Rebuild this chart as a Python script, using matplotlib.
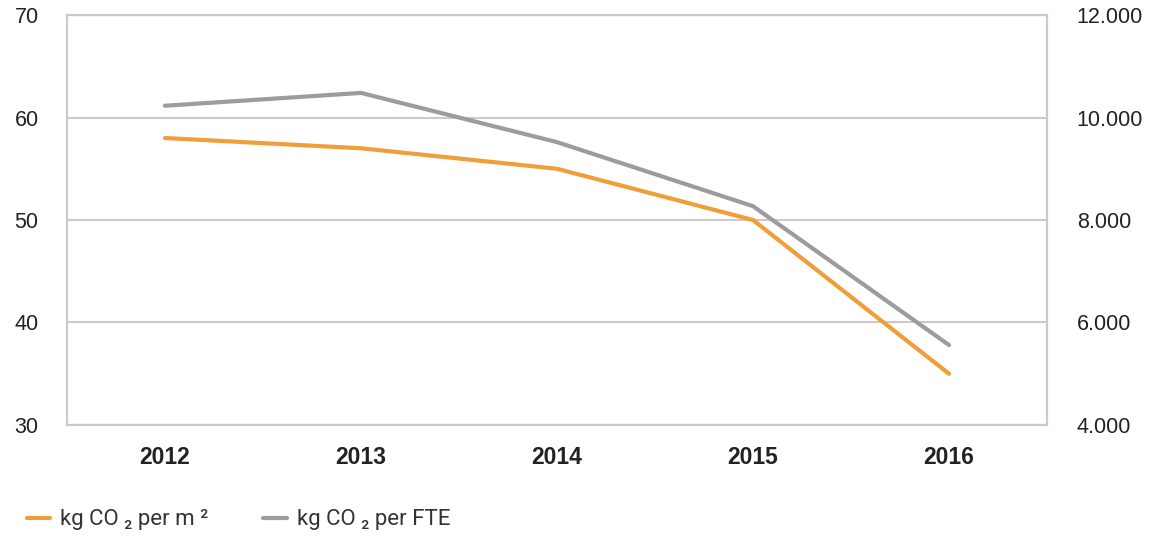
import matplotlib
matplotlib.use("Agg")
import matplotlib.pyplot as plt
from matplotlib.ticker import FuncFormatter

years = ["2012", "2013", "2014", "2015", "2016"]
co2_per_m2 = [58, 57, 55, 50, 35]
co2_per_fte = [10230, 10480, 9520, 8270, 5560]

orange = "#f09e3a"
grey = "#9c9c9e"
frame = "#cacacc"

plt.rcParams["font.family"] = ["Liberation Sans", "DejaVu Sans"]

fig = plt.figure(figsize=(11.55, 5.37), dpi=100)
ax = fig.add_axes([0.058, 0.2086, 0.8485, 0.7634])
ax2 = ax.twinx()

x = range(len(years))
l1, = ax.plot(x, co2_per_m2, color=orange, lw=3, solid_capstyle="round")
l2, = ax2.plot(x, co2_per_fte, color=grey, lw=3, solid_capstyle="round")

ax.set_xlim(-0.5, len(years) - 0.5)
ax.set_ylim(30, 70)
ax.set_yticks([30, 40, 50, 60, 70])
ax2.set_ylim(4000, 12000)
ax2.set_yticks([4000, 6000, 8000, 10000, 12000])
ax2.yaxis.set_major_formatter(FuncFormatter(lambda v, p: f"{int(v):,}".replace(",", ".")))

ax.set_xticks(list(x))
ax.set_xticklabels(years, fontweight="bold", fontsize=16.5, color="#222222")
ax.yaxis.grid(True, color=frame, lw=1.5)
ax.set_axisbelow(True)

for a in (ax, ax2):
    for s in a.spines.values():
        s.set_color(frame)
        s.set_linewidth(1.5)
    a.tick_params(length=0, labelsize=15.5, labelcolor="#222222")
ax.tick_params(axis="x", pad=15, labelsize=16.5)
ax.tick_params(axis="y", pad=20.5)
ax2.tick_params(axis="y", pad=21.5)

leg = fig.legend([l1, l2], ["kg CO ₂ per m ²", "kg CO ₂ per FTE"],
                 loc="center left", bbox_to_anchor=(0.0234, 1 - 520 / 537), ncol=2,
                 frameon=False, borderpad=0, borderaxespad=0,
                 handlelength=1.05, columnspacing=2.45, handletextpad=0.45,
                 prop={"family": ["Roboto", "DejaVu Sans"], "size": 16})
for t in leg.get_texts():
    t.set_color("#333333")

fig.savefig("out.png", dpi=100)
